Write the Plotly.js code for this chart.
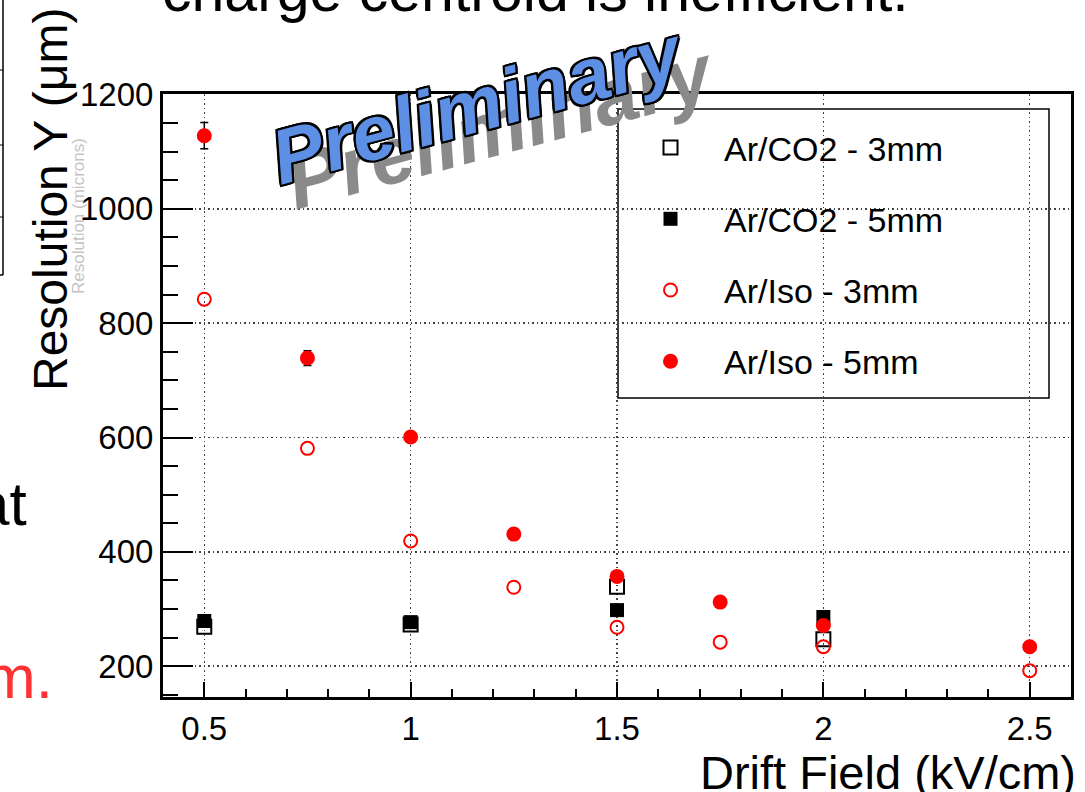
<!DOCTYPE html>
<html>
<head>
<meta charset="utf-8">
<script src="https://cdn.plot.ly/plotly-3.0.1.min.js"></script>
<style>
  html, body { margin: 0; padding: 0; background: #ffffff; }
  #chart { width: 1085px; height: 792px; }
</style>
</head>
<body>
<div id="chart"></div>
<script>
// ---- Data ----
const fieldCO2 = [0.5, 1.0, 1.5, 2.0];
const resCO2_3mm = [269, 273, 339, 247];
const resCO2_5mm = [279, 277, 298, 286];

const fieldIso = [0.5, 0.75, 1.0, 1.25, 1.5, 1.75, 2.0, 2.5];
const resIso_3mm = [842, 581, 419, 338, 268, 242, 234, 192];
const resIso_5mm = [1128, 739, 601, 431, 357, 312, 271, 234];
const errIso_5mm = [23, 13, 6, 5, 4, 4, 4, 4];

const seriesNames = ['Ar/CO2 - 3mm', 'Ar/CO2 - 5mm', 'Ar/Iso - 3mm', 'Ar/Iso - 5mm'];
const xTitle = 'Drift Field (kV/cm)';
const yTitle = 'Resolution Y (μm)';
const slideTop = 'charge centroid is inefficient.';

// ---- Geometry helpers (pixel -> paper) ----
const W = 1085, H = 792;
const M = {l: 163, r: 14, t: 94, b: 95};
const PW = W - M.l - M.r, PH = H - M.t - M.b;
const px = x => (x - M.l) / PW;
const py = y => (H - M.b - y) / PH;

const FONT = 'Liberation Sans, Arial, Helvetica, sans-serif';
const STAMP_FONT = 'Liberation Sans, Arial, sans-serif';

const traces = [
  {
    x: fieldCO2, y: resCO2_3mm, name: seriesNames[0], type: 'scatter', mode: 'markers',
    legendgroup: 'a',
    marker: {symbol: 'square-open', size: 14, color: '#000000', line: {width: 2, color: '#000000'}}
  },
  {
    x: fieldCO2, y: resCO2_5mm, name: seriesNames[1], type: 'scatter', mode: 'markers',
    legendgroup: 'b',
    marker: {symbol: 'square', size: 14, color: '#000000'}
  },
  {
    x: fieldIso, y: resIso_3mm, name: seriesNames[2], type: 'scatter', mode: 'markers',
    legendgroup: 'c',
    marker: {symbol: 'circle-open', size: 13, color: '#ff0000', line: {width: 2, color: '#ff0000'}}
  },
  {
    x: fieldIso, y: resIso_5mm, name: seriesNames[3], type: 'scatter', mode: 'markers',
    legendgroup: 'd',
    error_y: {type: 'data', array: errIso_5mm, visible: true, color: '#000000', thickness: 1.5, width: 4},
    marker: {symbol: 'circle', size: 15, color: '#ff0000'}
  }
];

const axisCommon = {
  showline: true, linewidth: 3, linecolor: '#000000', mirror: true,
  ticks: 'inside', tickwidth: 2, tickcolor: '#000000',
  showgrid: true, gridcolor: '#444444', gridwidth: 1.5, griddash: '1.5px,3px',
  zeroline: false,
  tickfont: {family: FONT, size: 33, color: '#000000'}
};

const layout = {
  width: W, height: H,
  margin: M,
  paper_bgcolor: '#ffffff', plot_bgcolor: '#ffffff',
  showlegend: true,
  font: {family: FONT, color: '#000000'},
  xaxis: Object.assign({}, axisCommon, {
    range: [0.4, 2.6], tick0: 0, dtick: 0.5, ticklen: 15,
    ticklabelstandoff: 0,
    minor: {dtick: 0.1, ticks: 'inside', ticklen: 8, tickwidth: 2, tickcolor: '#000000', showgrid: false}
  }),
  yaxis: Object.assign({}, axisCommon, {
    range: [146, 1201], tick0: 0, dtick: 200, ticklen: 30,
    ticklabelstandoff: 0,
    minor: {dtick: 50, ticks: 'inside', ticklen: 15, tickwidth: 2, tickcolor: '#000000', showgrid: false}
  }),
  legend: {
    x: px(617), y: py(119), xanchor: 'left', yanchor: 'top',
    bgcolor: 'rgba(0,0,0,0)', borderwidth: 0,
    font: {family: FONT, size: 34, color: '#000000'},
    traceorder: 'grouped', tracegroupgap: 24, itemwidth: 97
  },
  shapes: [
    // legend frame
    {type: 'rect', xref: 'paper', yref: 'paper', x0: px(618), x1: px(1049), y0: py(398), y1: py(109),
     line: {color: '#000000', width: 1.5}, fillcolor: '#ffffff', layer: 'below'},
    // fragment of a neighbouring figure at top-left
    {type: 'line', xref: 'paper', yref: 'paper', x0: px(3), x1: px(3), y0: py(0), y1: py(275), line: {color: '#000', width: 1.5}},
    {type: 'line', xref: 'paper', yref: 'paper', x0: px(0), x1: px(3), y0: py(275), y1: py(275), line: {color: '#000', width: 1.5}},
    {type: 'line', xref: 'paper', yref: 'paper', x0: px(0), x1: px(3), y0: py(70), y1: py(70), line: {color: '#000', width: 1}},
    {type: 'line', xref: 'paper', yref: 'paper', x0: px(0), x1: px(3), y0: py(145), y1: py(145), line: {color: '#000', width: 1}},
    {type: 'line', xref: 'paper', yref: 'paper', x0: px(0), x1: px(3), y0: py(217), y1: py(217), line: {color: '#000', width: 1}}
  ],
  annotations: [
    // slide text cut at top
    {text: slideTop, xref: 'paper', yref: 'paper', x: px(535), y: py(-8.5), xanchor: 'center', yanchor: 'middle',
     showarrow: false, font: {family: FONT, size: 59, color: '#000000'}},
    // slide text cut at left
    {text: 'at', xref: 'paper', yref: 'paper', x: px(29), y: py(503), xanchor: 'right', yanchor: 'middle',
     showarrow: false, font: {family: FONT, size: 62, color: '#000000'}},
    {text: 'm.', xref: 'paper', yref: 'paper', x: px(55), y: py(676), xanchor: 'right', yanchor: 'middle',
     showarrow: false, font: {family: FONT, size: 62, color: '#ff3333'}},
    // faint ghost label
    {text: 'Resolution (microns)', xref: 'paper', yref: 'paper', x: px(78), y: py(216), xanchor: 'center', yanchor: 'middle',
     textangle: -90, showarrow: false, font: {family: FONT, size: 17, color: '#c4c4c4'}},
    // axis titles
    {text: yTitle, xref: 'paper', yref: 'paper', x: px(50), y: py(200), xanchor: 'center', yanchor: 'middle',
     textangle: -90, showarrow: false, font: {family: FONT, size: 48, color: '#000000'}},
    {text: xTitle, xref: 'paper', yref: 'paper', x: px(1078), y: py(772), xanchor: 'right', yanchor: 'middle',
     showarrow: false, font: {family: FONT, size: 47, color: '#000000'}},
    // "Preliminary" stamp: shadow then outlined blue
    {text: 'Preliminary', xref: 'paper', yref: 'paper', x: px(500), y: py(127), xanchor: 'center', yanchor: 'middle',
     textangle: -15, showarrow: false,
     font: {family: STAMP_FONT, size: 80, color: '#8a8a8a', weight: 'bold', style: 'italic'}},
    {text: 'Preliminary', xref: 'paper', yref: 'paper', x: px(478), y: py(104), xanchor: 'center', yanchor: 'middle',
     textangle: -15, showarrow: false,
     font: {family: STAMP_FONT, size: 77, color: '#5d8fe4', weight: 'bold', style: 'italic',
            shadow: '-2px -2px 0 #000, 2px -2px 0 #000, -2px 2px 0 #000, 2px 2px 0 #000, 0 2px 0 #000, 0 -2px 0 #000, 2px 0 0 #000, -2px 0 0 #000'}}
  ]
};

Plotly.newPlot('chart', traces, layout, {displayModeBar: false, staticPlot: true});
</script>
</body>
</html>
